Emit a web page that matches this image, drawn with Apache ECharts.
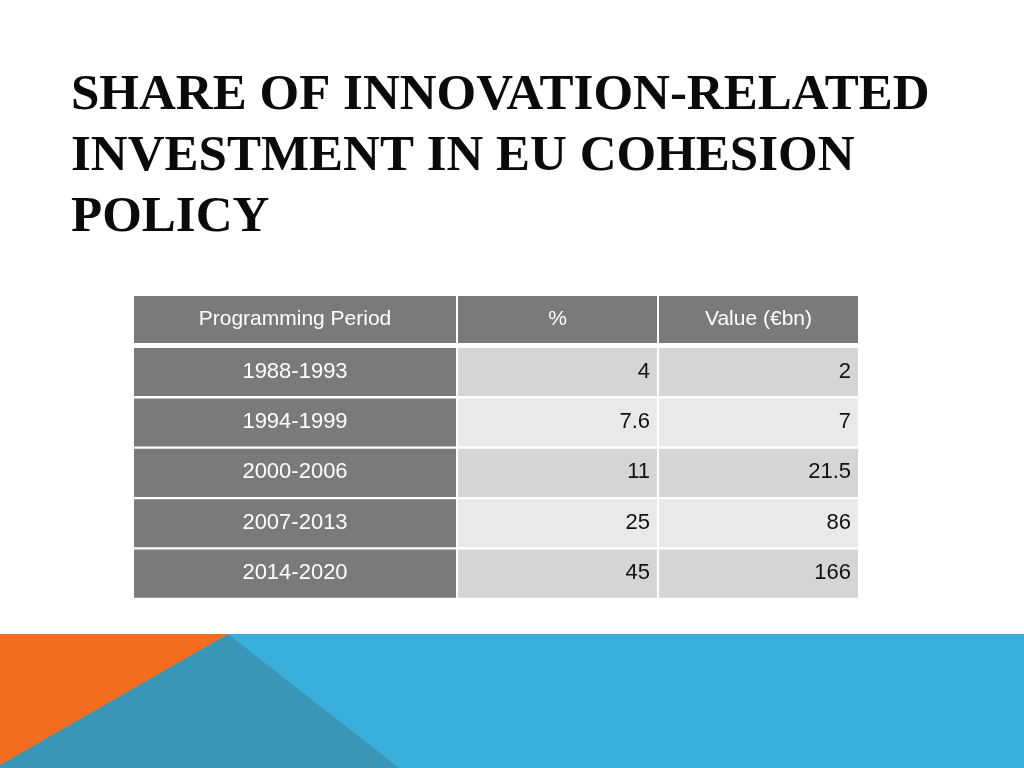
<!DOCTYPE html>
<html>
<head>
<meta charset="utf-8">
<style>
  html, body { margin: 0; padding: 0; background: #ffffff; }
  #chart { width: 1024px; height: 768px; }
</style>
<script src="https://cdn.jsdelivr.net/npm/echarts@6/dist/echarts.min.js"></script>
</head>
<body>
<div id="chart"></div>
<script>
// ---- data ----
const titleLines = ['SHARE OF INNOVATION-RELATED', 'INVESTMENT IN EU COHESION', 'POLICY'];
const headers = ['Programming Period', '%', 'Value (€bn)'];
const periods = ['1988-1993', '1994-1999', '2000-2006', '2007-2013', '2014-2020'];
const sharePct = [4, 7.6, 11, 25, 45];
const valueBn = [2, 7, 21.5, 86, 166];

// ---- layout ----
const columnsLayout = [
  { left: 134, width: 322 },
  { left: 458, width: 199 },
  { left: 659, width: 199 }
];
const headerTop = 296, headerHeight = 47;
const bodyTop = 348, bodyHeight = 252;
const rowGap = 2.3;
const GRAY = '#7a7a7b';
const ROW_DARK = '#d5d5d7';
const ROW_LIGHT = '#e9e9ea';
const FONT = '"Liberation Sans", Arial, sans-serif';

const columnValues = [periods, sharePct.map(String), valueBn.map(String)];

const grids = [], xAxes = [], yAxes = [], series = [];
columnsLayout.forEach((col, c) => {
  grids.push({ left: col.left, width: col.width, top: headerTop, height: headerHeight });
  grids.push({ left: col.left, width: col.width, top: bodyTop, height: bodyHeight });
});
for (let g = 0; g < grids.length; g++) {
  xAxes.push({ type: 'value', gridIndex: g, min: 0, max: 1, show: false });
  const isHeader = g % 2 === 0;
  yAxes.push({
    type: 'category', gridIndex: g, inverse: true, show: false,
    data: isHeader ? ['header'] : periods
  });
}

columnsLayout.forEach((col, c) => {
  series.push({
    type: 'custom',
    xAxisIndex: c * 2, yAxisIndex: c * 2,
    data: [[0.5, 0]],
    silent: true,
    renderItem: function (params, api) {
      const center = api.coord([0.5, api.value(1)]);
      const band = api.size([0, 1])[1];
      const cs = params.coordSys;
      const yTop = center[1] - band / 2;
      return {
        type: 'group',
        children: [
          { type: 'rect', shape: { x: cs.x, y: yTop, width: cs.width, height: band }, style: { fill: GRAY } },
          { type: 'text', style: {
              text: headers[c], x: cs.x + cs.width / 2, y: yTop + band / 2,
              align: 'center', verticalAlign: 'middle',
              fill: '#ffffff', fontSize: 21, fontFamily: FONT } }
        ]
      };
    }
  });
  series.push({
    type: 'custom',
    xAxisIndex: c * 2 + 1, yAxisIndex: c * 2 + 1,
    data: periods.map((p, i) => [0.5, i]),
    silent: true,
    renderItem: function (params, api) {
      const r = api.value(1);
      const center = api.coord([0.5, r]);
      const band = api.size([0, 1])[1];
      const cs = params.coordSys;
      const yTop = center[1] - band / 2;
      const h = band - rowGap;
      const first = c === 0;
      const fill = first ? GRAY : (r % 2 === 0 ? ROW_DARK : ROW_LIGHT);
      return {
        type: 'group',
        children: [
          { type: 'rect', shape: { x: cs.x, y: yTop, width: cs.width, height: h }, style: { fill: fill } },
          { type: 'text', style: {
              text: columnValues[c][params.dataIndex],
              x: first ? cs.x + cs.width / 2 : cs.x + cs.width - 7,
              y: yTop + h / 2 - 0.5,
              align: first ? 'center' : 'right', verticalAlign: 'middle',
              fill: first ? '#ffffff' : '#111111', fontSize: 22, fontFamily: FONT } }
        ]
      };
    }
  });
});

const chart = echarts.init(document.getElementById('chart'), null, { renderer: 'canvas' });
chart.setOption({
  animation: false,
  backgroundColor: '#ffffff',
  title: {
    text: titleLines.join('\n'),
    left: 71, top: 65, padding: 0,
    textStyle: {
      fontFamily: '"Liberation Serif", "Times New Roman", serif',
      fontWeight: 'bold', fontSize: 51, lineHeight: 61, color: '#0a0a0a'
    }
  },
  graphic: [
    { type: 'rect', z: -10, shape: { x: 0, y: 634, width: 1024, height: 134 }, style: { fill: '#39b0dc' } },
    { type: 'polygon', z: -9, shape: { points: [[228, 634], [0, 765], [0, 768], [399, 768]] }, style: { fill: '#3a96b6' } },
    { type: 'polygon', z: -8, shape: { points: [[0, 634], [228, 634], [0, 765]] }, style: { fill: '#f46d1e' } }
  ],
  grid: grids,
  xAxis: xAxes,
  yAxis: yAxes,
  series: series
});
</script>
</body>
</html>
